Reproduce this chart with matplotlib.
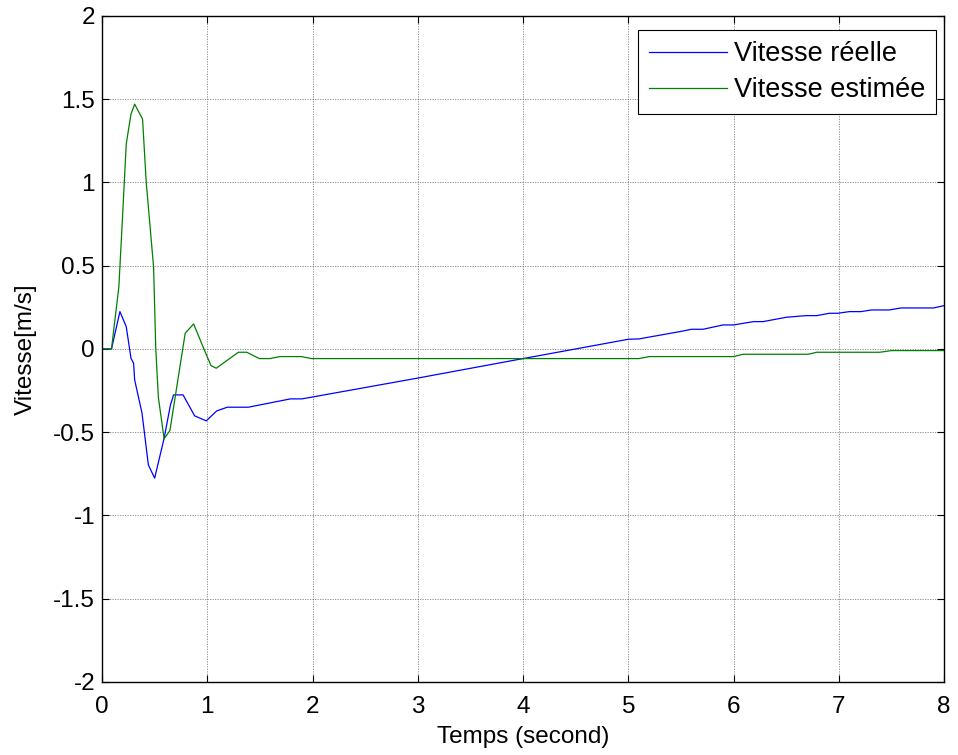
import numpy as np
import matplotlib
matplotlib.use("Agg")
import matplotlib.pyplot as plt

# values
t_real = [0.0, 0.09, 0.17, 0.23, 0.275, 0.30, 0.31, 0.38, 0.44, 0.50, 0.59, 0.65, 0.68,
          0.77, 0.88, 0.99, 1.09, 1.19, 1.39, 1.79, 1.90, 3.0, 4.0, 5.0, 5.10, 5.49,
          5.60, 5.71, 5.90, 6.0, 6.19, 6.28, 6.50, 6.69, 6.79, 6.91, 6.99, 7.10, 7.21,
          7.31, 7.48, 7.59, 7.90, 8.0]
v_real = [0.0, 0.0, 0.224, 0.134, -0.056, -0.086, -0.186, -0.386, -0.696, -0.776,
          -0.536, -0.336, -0.276, -0.276, -0.402, -0.432, -0.372, -0.35, -0.35, -0.30,
          -0.30, -0.175, -0.058, 0.058, 0.06, 0.104, 0.118, 0.118, 0.144, 0.144, 0.164,
          0.164, 0.19, 0.20, 0.20, 0.214, 0.214, 0.224, 0.224, 0.234, 0.234, 0.246,
          0.246, 0.26]

t_est = [0.0, 0.09, 0.16, 0.19, 0.23, 0.275, 0.31, 0.385, 0.42, 0.49, 0.51, 0.535,
         0.59, 0.645, 0.79, 0.87, 0.98, 1.035, 1.085, 1.295, 1.375, 1.495, 1.595, 1.69,
         1.895, 1.99, 5.10, 5.20, 6.0, 6.09, 6.71, 6.79, 7.39, 7.50, 8.0]
v_est = [0.0, 0.0, 0.374, 0.734, 1.23, 1.41, 1.47, 1.38, 1.0, 0.49, 0.01, -0.29,
         -0.54, -0.49, 0.094, 0.15, -0.018, -0.10, -0.116, -0.02, -0.02, -0.058,
         -0.058, -0.046, -0.046, -0.058, -0.058, -0.046, -0.046, -0.032, -0.032,
         -0.02, -0.02, -0.01, -0.01]

x_ticks = [0, 1, 2, 3, 4, 5, 6, 7, 8]
y_ticks = [-2, -1.5, -1, -0.5, 0, 0.5, 1, 1.5, 2]
y_labels = ["-2", "-1.5", "-1", "-0.5", "0", "0.5", "1", "1.5", "2"]

plt.rcParams["font.family"] = ["Liberation Sans", "DejaVu Sans"]
fs = 17.5

fig = plt.figure(figsize=(9.58, 7.55), dpi=100)
ax = fig.add_axes([0.1065, 0.0967, 0.879, 0.8823])

ax.plot(t_real, v_real, color=(0, 0, 1), linewidth=0.9, label="Vitesse réelle")
ax.plot(t_est, v_est, color=(0, 0.5, 0), linewidth=0.9, label="Vitesse estimée")

ax.set_xlim(0, 8)
ax.set_ylim(-2, 2)
ax.set_xticks(x_ticks)
ax.set_yticks(y_ticks)
ax.set_yticklabels(y_labels)
ax.tick_params(direction="in", top=True, right=True, length=5, width=0.8,
               labelsize=fs)
ax.tick_params(axis="x", pad=10)
ax.tick_params(axis="y", pad=5)
ax.grid(True, color="#555555", linestyle=(0, (1.5, 1.5)), linewidth=0.6, alpha=0.75)
for s in ax.spines.values():
    s.set_linewidth(1.0)

ax.set_xlabel("Temps (second)", fontsize=fs, labelpad=6)
ax.set_ylabel("Vitesse[m/s]", fontsize=fs, labelpad=12)

leg = ax.legend(loc="upper right", bbox_to_anchor=(0.9905, 0.9785), borderaxespad=0,
                fancybox=False, edgecolor="black", framealpha=1, fontsize=19.5,
                handlelength=2.9, handletextpad=0.25, borderpad=0.4,
                labelspacing=0.38)
leg.get_frame().set_linewidth(0.8)

plt.savefig("out.png", dpi=100)
plt.close()
